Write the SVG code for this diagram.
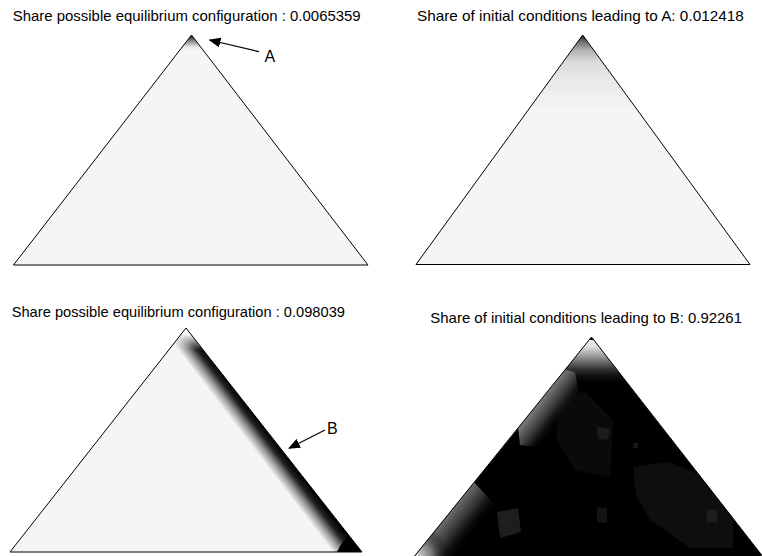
<svg xmlns="http://www.w3.org/2000/svg" width="762" height="556" viewBox="0 0 762 556">
<style>
.title{font-family:"Liberation Sans",Arial,sans-serif;font-size:15px;fill:#000}
.lbl{font-family:"Liberation Sans",Arial,sans-serif;font-size:16px;fill:#000}
.edge{fill:none;stroke:#000;stroke-width:1}
.conn{stroke:#000;stroke-width:1.2;fill:none}
</style>
<defs>
<marker id="ah" markerUnits="userSpaceOnUse" markerWidth="12" markerHeight="10" refX="11" refY="5" orient="auto">
<path d="M0,0 L12,5 L0,10 Z" fill="#000"/>
</marker>
<linearGradient id="gTL" gradientUnits="userSpaceOnUse" x1="0" y1="35" x2="0" y2="50">
<stop offset="0" stop-color="#111"/>
<stop offset="0.4" stop-color="#888"/>
<stop offset="0.8" stop-color="#e8e8e8"/>
<stop offset="1" stop-color="#f5f5f5"/>
</linearGradient>
<linearGradient id="gTR" gradientUnits="userSpaceOnUse" x1="0" y1="35" x2="0" y2="110">
<stop offset="0" stop-color="#111"/>
<stop offset="0.08" stop-color="#666"/>
<stop offset="0.2" stop-color="#b0b0b0"/>
<stop offset="0.36" stop-color="#dadada"/>
<stop offset="0.6" stop-color="#e8e8e8"/>
<stop offset="1" stop-color="#f5f5f5"/>
</linearGradient>
<linearGradient id="gBL" gradientUnits="userSpaceOnUse" x1="274" y1="440" x2="257" y2="453">
<stop offset="0" stop-color="#000"/>
<stop offset="0.3" stop-color="#222"/>
<stop offset="0.65" stop-color="#999"/>
<stop offset="1" stop-color="#f5f5f5"/>
</linearGradient>
<linearGradient id="gBLfade" gradientUnits="userSpaceOnUse" x1="0" y1="328" x2="0" y2="350">
<stop offset="0" stop-color="#f5f5f5"/>
<stop offset="0.3" stop-color="#f5f5f5"/>
<stop offset="1" stop-color="#f5f5f5" stop-opacity="0"/>
</linearGradient>
<linearGradient id="gBRtop" gradientUnits="userSpaceOnUse" x1="0" y1="337" x2="0" y2="385">
<stop offset="0" stop-color="#f5f5f5"/>
<stop offset="0.2" stop-color="#e0e0e0"/>
<stop offset="0.4" stop-color="#999"/>
<stop offset="0.65" stop-color="#3a3a3a"/>
<stop offset="1" stop-color="#000" stop-opacity="0"/>
</linearGradient>
<linearGradient id="gBRleft" gradientUnits="userSpaceOnUse" x1="541" y1="400" x2="564" y2="418">
<stop offset="0" stop-color="#7a7a7a"/>
<stop offset="0.5" stop-color="#333"/>
<stop offset="1" stop-color="#000" stop-opacity="0"/>
</linearGradient>
<linearGradient id="gBRlow" gradientUnits="userSpaceOnUse" x1="455" y1="507" x2="480" y2="527">
<stop offset="0" stop-color="#6a6a6a"/>
<stop offset="0.5" stop-color="#2a2a2a"/>
<stop offset="1" stop-color="#000" stop-opacity="0"/>
</linearGradient>
<radialGradient id="gBRcorner" gradientUnits="userSpaceOnUse" cx="416" cy="556" r="32">
<stop offset="0" stop-color="#ddd"/>
<stop offset="0.5" stop-color="#777"/>
<stop offset="1" stop-color="#000" stop-opacity="0"/>
</radialGradient>
<clipPath id="cBL"><polygon points="186,328 362,552 10,552"/></clipPath>
<clipPath id="cBR"><polygon points="591.5,337 764,558 413,558"/></clipPath>
</defs>

<g id="panel-top-left">
<text class="title" x="12.7" y="21" textLength="348" lengthAdjust="spacingAndGlyphs">Share possible equilibrium configuration : 0.0065359</text>
<polygon points="191.5,35 368,265 13.5,265" fill="#f5f5f5"/>
<polygon points="191.5,35 203,50 180,50" fill="url(#gTL)"/>
<polygon class="edge" points="191.5,35 368,265 13.5,265"/>
</g>

<g id="label-A">
<text class="lbl" x="264.5" y="62">A</text>
</g>

<g id="panel-top-right">
<text class="title" x="417" y="21" textLength="326.7" lengthAdjust="spacingAndGlyphs">Share of initial conditions leading to A: 0.012418</text>
<polygon points="582.7,35 750,264.5 416,264.5" fill="url(#gTR)"/>
<polygon class="edge" points="582.7,35 750,264.5 416,264.5"/>
</g>

<g id="panel-bottom-left">
<text class="title" x="11.7" y="316.7" textLength="333.3" lengthAdjust="spacingAndGlyphs">Share possible equilibrium configuration : 0.098039</text>
<polygon points="186,328 362,552 10,552" fill="#f5f5f5"/>
<g clip-path="url(#cBL)">
<polygon points="190,333 362,552 325,552 155,333" fill="url(#gBL)"/>
<polygon points="186,328 210,358 160,358" fill="url(#gBLfade)"/>
<path d="M337,552 Q342,541 349.5,536 L362,552 Z" fill="#000"/>
</g>
<polygon class="edge" points="186,328 362,552 10,552"/>
</g>

<g id="label-B">
<text class="lbl" x="327" y="434">B</text>
</g>

<g id="panel-bottom-right">
<text class="title" x="430.3" y="323" textLength="311.7" lengthAdjust="spacingAndGlyphs">Share of initial conditions leading to B: 0.92261</text>
<g clip-path="url(#cBR)">
<polygon points="591.5,337 764,558 413,558" fill="#000"/>
<polygon points="557,397 585,392 613,420 610,478 575,470 557,440" fill="#0a0a0a"/>
<polygon points="633,467 668,462 700,475 733,500 733,548 690,548 650,520 636,495" fill="#0e0e0e"/>
<polygon points="707,510 717,510 717,523 707,523" fill="#1c1c1c"/>
<polygon points="597,427 610,429 608,440 598,439" fill="#1c1c1c"/>
<polygon points="633,443 638,443 638,448 633,448" fill="#161616"/>
<polygon points="597,507 607,508 607,523 597,522" fill="#141414"/>
<polygon points="497,512 518,508 521,532 500,538" fill="#1e1e1e"/>
<polygon points="520,340 660,340 660,390 520,390" fill="url(#gBRtop)"/>
<polygon points="545,365 575,372 580,400 560,450 520,445 515,400" fill="url(#gBRleft)"/>
<polygon points="440,470 470,478 500,510 490,556 410,556" fill="url(#gBRlow)"/>
<rect x="400" y="515" width="60" height="45" fill="url(#gBRcorner)"/>
</g>
<polygon class="edge" points="591.5,337 764,558 413,558"/>
</g>

<g id="connectors">
<line class="conn" x1="259" y1="51.7" x2="209.5" y2="40" marker-end="url(#ah)"/>
<line class="conn" x1="325" y1="430" x2="289" y2="448.3" marker-end="url(#ah)"/>
</g>
</svg>
